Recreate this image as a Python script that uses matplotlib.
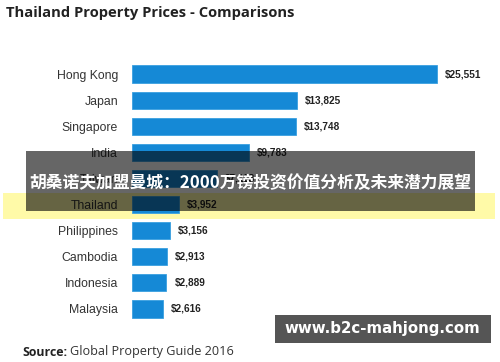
import matplotlib
matplotlib.use("Agg")
import matplotlib.pyplot as plt
from matplotlib.patches import Rectangle

countries = ["Hong Kong", "Japan", "Singapore", "India", "Taiwan", "Thailand",
             "Philippines", "Cambodia", "Indonesia", "Malaysia"]
prices = [25551, 13825, 13748, 9783, 7118, 3952, 3156, 2913, 2889, 2616]
price_labels = ["$25,551", "$13,825", "$13,748", "$9,783", "$7,118", "$3,952",
                "$3,156", "$2,913", "$2,889", "$2,616"]
title = "Thailand Property Prices - Comparisons"
banner = "胡桑诺夫加盟曼城：2000万镑投资价值分析及未来潜力展望"
watermark = "www.b2c-mahjong.com"

W, H = 500, 362
fig = plt.figure(figsize=(W / 100, H / 100), dpi=100)
fig.patch.set_facecolor("white")

# yellow band (behind the chart)
fig.patches.append(Rectangle((3 / W, 1 - 219 / H), 492 / W, 26 / H,
                             transform=fig.transFigure, facecolor="#fffaa8",
                             edgecolor="none", zorder=-1))

# axes: x from 132 px to 500 px, y from 61 px to 322 px (from top)
ax = fig.add_axes([132 / W, 1 - 322 / H, (W - 132) / W, (322 - 61) / H])
ax.set_xlim(0, 25551 * 368 / 305)
ax.set_ylim(len(countries) - 0.5, -0.5)
ypos = list(range(len(countries)))
ax.barh(ypos, prices, height=0.66, color="#1589d6", edgecolor="#3aa0e0", linewidth=0.6)
for y, v, lab in zip(ypos, prices, price_labels):
    ax.text(v + 25551 * 8 / 305, y, lab, ha="left", va="center",
            fontsize=7.2, fontweight="bold", family="Liberation Sans", color="#222222")
ax.set_yticks(ypos)
ax.set_yticklabels(countries, family="Liberation Sans", fontsize=8.8, color="#333333")
ax.tick_params(axis="y", length=0, pad=10)
ax.set_xticks([])
for s in ax.spines.values():
    s.set_visible(False)
ax.patch.set_alpha(0)

# title
fig.text(6 / W, 1 - 13 / H, title, ha="left", va="center", fontsize=10.6,
         fontweight="bold", family="Open Sans", color="#222222")

# source
fig.text(22 / W, 1 - 352 / H, "Source:", ha="left", va="center", fontsize=8.9,
         fontweight="bold", family="Open Sans", color="#222222")
fig.text(70 / W, 1 - 352 / H, "Global Property Guide 2016", ha="left", va="center",
         fontsize=9.1, family="Open Sans", color="#333333")

# dark banner
fig.patches.append(Rectangle((26 / W, 1 - 211 / H), 449 / W, 60 / H,
                             transform=fig.transFigure, facecolor="black",
                             alpha=0.6, edgecolor="none", zorder=6))
fig.text(250 / W, 1 - 183 / H, banner, ha="center", va="center", fontsize=12.1,
         fontweight="bold", family=["Noto Sans CJK SC", "DejaVu Sans"],
         color="white", zorder=7)

# watermark
fig.patches.append(Rectangle((275 / W, 1 - 343 / H), 216 / W, 28 / H,
                             transform=fig.transFigure, facecolor="#555555",
                             edgecolor="none", zorder=6))
fig.text(382 / W, 1 - 329 / H, watermark, ha="center", va="center", fontsize=10.8,
         fontweight="bold", family="DejaVu Sans", color="white", zorder=7)

fig.savefig("out.png", dpi=100, facecolor="white")
